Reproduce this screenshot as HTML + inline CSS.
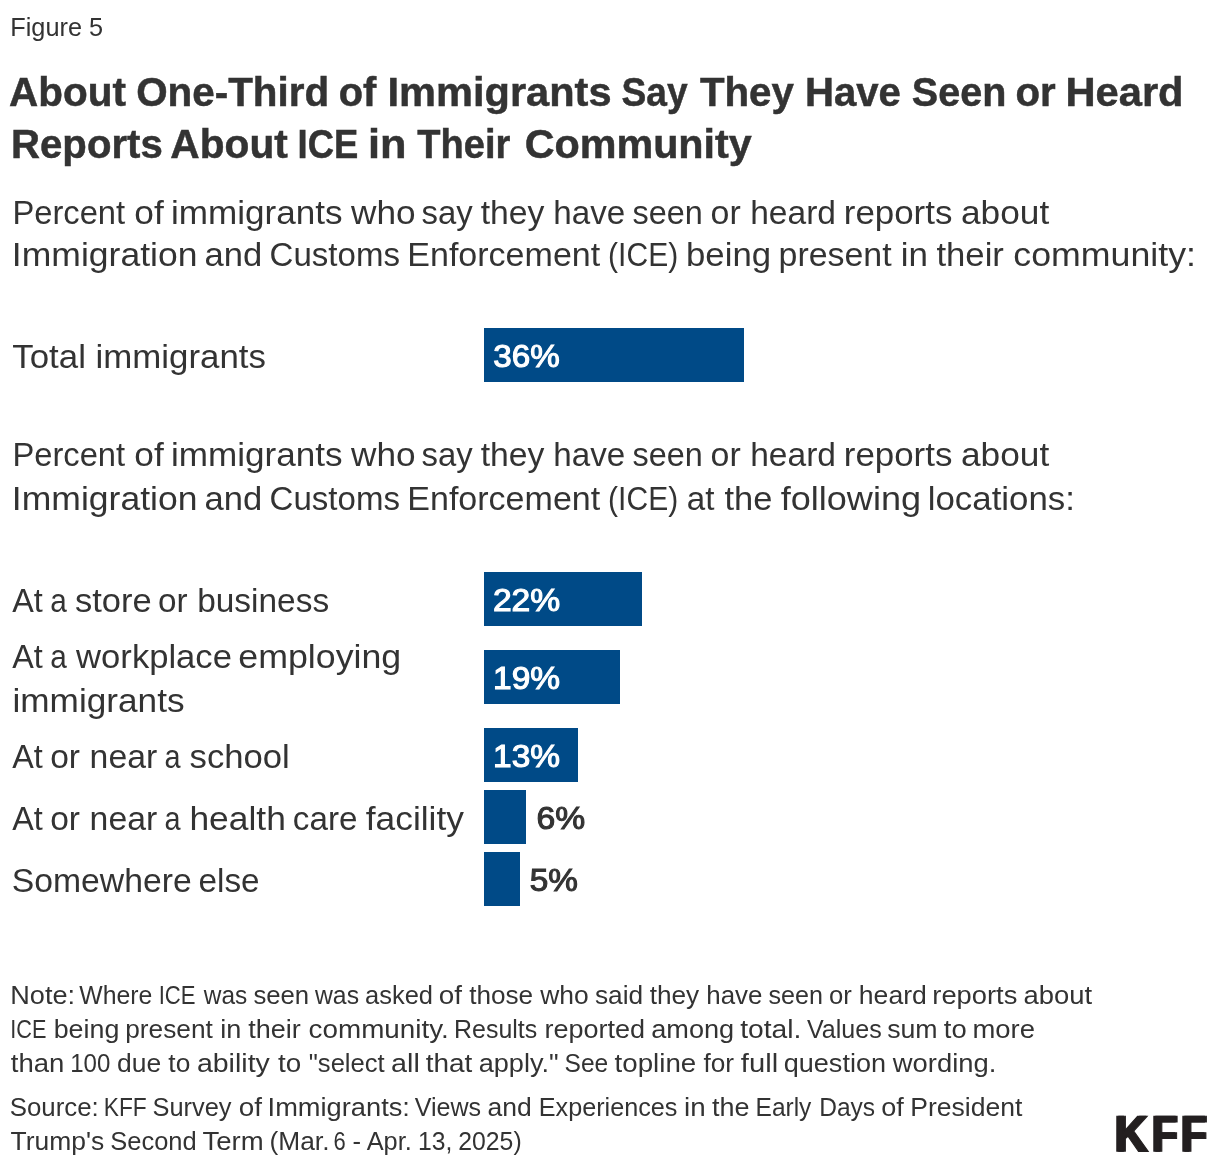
<!DOCTYPE html>
<html lang="en"><head><meta charset="utf-8"><title>Figure 5</title>
<style>
html,body{margin:0;padding:0;background:#fff;}
body{width:1220px;height:1168px;position:relative;overflow:hidden;font-family:"Liberation Sans",sans-serif;color:#333333;}
.ln{position:absolute;left:0;margin:0;padding:0;line-height:1;white-space:nowrap;font-weight:400;}
.ln span{position:absolute;left:0;top:0;white-space:nowrap;transform-origin:0 0;}
.bar{position:absolute;background:#004a87;}
.b{font-weight:700}
</style></head><body>
<div class="bar" style="left:484px;top:328px;width:260px;height:54px"></div>
<div class="bar" style="left:484px;top:572px;width:158px;height:54px"></div>
<div class="bar" style="left:484px;top:650px;width:136px;height:54px"></div>
<div class="bar" style="left:484px;top:728px;width:94px;height:54px"></div>
<div class="bar" style="left:484px;top:790px;width:42px;height:54px"></div>
<div class="bar" style="left:484px;top:852px;width:36px;height:54px"></div>
<div class="ln" id="fig" style="top:14px;font-size:26.6px;"><span style="transform:translateX(10.25px) scaleX(0.9514)">Figure 5</span></div>
<div class="ln b" id="t1" style="top:72px;font-size:41.4px;-webkit-text-stroke:0.5px #333333;"><span style="transform:translateX(9.08px) scaleX(0.9774)">About</span> <span style="transform:translateX(136.17px) scaleX(0.9756)">One-Third</span> <span style="transform:translateX(338.65px) scaleX(0.9605)">of</span> <span style="transform:translateX(387.47px) scaleX(1.0043)">Immigrants</span> <span style="transform:translateX(621.57px) scaleX(0.8975)">Say</span> <span style="transform:translateX(699.89px) scaleX(0.9731)">They</span> <span style="transform:translateX(805.02px) scaleX(0.9687)">Have</span> <span style="transform:translateX(911.87px) scaleX(0.9543)">Seen</span> <span style="transform:translateX(1015.47px) scaleX(0.9717)">or</span> <span style="transform:translateX(1065.44px) scaleX(1.0068)">Heard</span></div>
<div class="ln b" id="t2" style="top:124px;font-size:41.4px;-webkit-text-stroke:0.5px #333333;"><span style="transform:translateX(11.06px) scaleX(0.9698)">Reports</span> <span style="transform:translateX(170.35px) scaleX(0.9826)">About</span> <span style="transform:translateX(297.57px) scaleX(0.8802)">ICE</span> <span style="transform:translateX(367.99px) scaleX(1.0471)">in</span> <span style="transform:translateX(417.27px) scaleX(0.9189)">Their</span> <span style="transform:translateX(524.65px) scaleX(0.9978)">Community</span></div>
<div class="ln" id="s1" style="top:196px;font-size:33.2px;"><span style="transform:translateX(12.41px) scaleX(0.9856)">Percent</span> <span style="transform:translateX(134.27px) scaleX(1.0624)">of</span> <span style="transform:translateX(170.96px) scaleX(1.0574)">immigrants</span> <span style="transform:translateX(351.09px) scaleX(1.0614)">who</span> <span style="transform:translateX(421.56px) scaleX(0.9907)">say</span> <span style="transform:translateX(480.67px) scaleX(1.0165)">they</span> <span style="transform:translateX(553.28px) scaleX(1.0004)">have</span> <span style="transform:translateX(632.56px) scaleX(0.9753)">seen</span> <span style="transform:translateX(710.52px) scaleX(1.0227)">or</span> <span style="transform:translateX(750.19px) scaleX(1.0108)">heard</span> <span style="transform:translateX(843.79px) scaleX(1.0513)">reports</span> <span style="transform:translateX(960.97px) scaleX(1.0629)">about</span></div>
<div class="ln" id="s2" style="top:238px;font-size:33.2px;"><span style="transform:translateX(11.86px) scaleX(1.0704)">Immigration</span> <span style="transform:translateX(204.60px) scaleX(1.0421)">and</span> <span style="transform:translateX(269.58px) scaleX(0.9955)">Customs</span> <span style="transform:translateX(407.29px) scaleX(1.0252)">Enforcement</span> <span style="transform:translateX(608.12px) scaleX(0.9044)">(ICE)</span> <span style="transform:translateX(686.03px) scaleX(1.0469)">being</span> <span style="transform:translateX(778.55px) scaleX(1.0210)">present</span> <span style="transform:translateX(900.79px) scaleX(1.0541)">in</span> <span style="transform:translateX(936.40px) scaleX(1.0458)">their</span> <span style="transform:translateX(1013.35px) scaleX(1.0760)">community:</span></div>
<div class="ln" id="r0" style="top:340px;font-size:33.2px;"><span style="transform:translateX(12.32px) scaleX(1.0495)">Total immigrants</span></div>
<div class="ln" id="v0" style="top:340px;font-size:32.0px;color:#ffffff;-webkit-text-stroke:1.1px #ffffff;"><span style="transform:translateX(493.33px) scaleX(1.0375)">36%</span></div>
<div class="ln" id="g1" style="top:438px;font-size:33.2px;"><span style="transform:translateX(12.41px) scaleX(0.9856)">Percent</span> <span style="transform:translateX(134.27px) scaleX(1.0624)">of</span> <span style="transform:translateX(170.96px) scaleX(1.0574)">immigrants</span> <span style="transform:translateX(351.09px) scaleX(1.0614)">who</span> <span style="transform:translateX(421.56px) scaleX(0.9907)">say</span> <span style="transform:translateX(480.67px) scaleX(1.0165)">they</span> <span style="transform:translateX(553.28px) scaleX(1.0004)">have</span> <span style="transform:translateX(632.56px) scaleX(0.9753)">seen</span> <span style="transform:translateX(710.52px) scaleX(1.0227)">or</span> <span style="transform:translateX(750.19px) scaleX(1.0108)">heard</span> <span style="transform:translateX(843.79px) scaleX(1.0513)">reports</span> <span style="transform:translateX(960.97px) scaleX(1.0629)">about</span></div>
<div class="ln" id="g2" style="top:482px;font-size:33.2px;"><span style="transform:translateX(11.86px) scaleX(1.0704)">Immigration</span> <span style="transform:translateX(204.60px) scaleX(1.0421)">and</span> <span style="transform:translateX(269.58px) scaleX(0.9955)">Customs</span> <span style="transform:translateX(407.29px) scaleX(1.0252)">Enforcement</span> <span style="transform:translateX(608.12px) scaleX(0.9044)">(ICE)</span> <span style="transform:translateX(686.87px) scaleX(0.9987)">at</span> <span style="transform:translateX(724.40px) scaleX(1.0379)">the</span> <span style="transform:translateX(780.67px) scaleX(1.0868)">following</span> <span style="transform:translateX(927.72px) scaleX(1.0502)">locations:</span></div>
<div class="ln" id="r1" style="top:584px;font-size:33.2px;"><span style="transform:translateX(12.20px) scaleX(0.9732)">At</span> <span style="transform:translateX(50.37px) scaleX(0.8974)">a</span> <span style="transform:translateX(74.91px) scaleX(1.0391)">store</span> <span style="transform:translateX(157.89px) scaleX(1.0033)">or</span> <span style="transform:translateX(197.19px) scaleX(1.0073)">business</span></div>
<div class="ln" id="v1" style="top:584px;font-size:32.0px;color:#ffffff;-webkit-text-stroke:1.1px #ffffff;"><span style="transform:translateX(492.88px) scaleX(1.0519)">22%</span></div>
<div class="ln" id="r2a" style="top:640px;font-size:33.2px;"><span style="transform:translateX(12.20px) scaleX(0.9732)">At</span> <span style="transform:translateX(50.37px) scaleX(0.8974)">a</span> <span style="transform:translateX(76.10px) scaleX(1.0430)">workplace</span> <span style="transform:translateX(238.33px) scaleX(1.0769)">employing</span></div>
<div class="ln" id="r2b" style="top:684px;font-size:33.2px;"><span style="transform:translateX(12.47px) scaleX(1.0605)">immigrants</span></div>
<div class="ln" id="v2" style="top:662px;font-size:32.0px;color:#ffffff;-webkit-text-stroke:1.1px #ffffff;"><span style="transform:translateX(493.03px) scaleX(1.0462)">19%</span></div>
<div class="ln" id="r3" style="top:740px;font-size:33.2px;"><span style="transform:translateX(12.20px) scaleX(0.9732)">At</span> <span style="transform:translateX(50.13px) scaleX(1.0107)">or</span> <span style="transform:translateX(89.60px) scaleX(1.0180)">near</span> <span style="transform:translateX(164.59px) scaleX(0.8691)">a</span> <span style="transform:translateX(189.53px) scaleX(1.0453)">school</span></div>
<div class="ln" id="v3" style="top:740px;font-size:32.0px;color:#ffffff;-webkit-text-stroke:1.1px #ffffff;"><span style="transform:translateX(493.03px) scaleX(1.0462)">13%</span></div>
<div class="ln" id="r4" style="top:802px;font-size:33.2px;"><span style="transform:translateX(12.20px) scaleX(0.9732)">At</span> <span style="transform:translateX(50.13px) scaleX(1.0107)">or</span> <span style="transform:translateX(89.60px) scaleX(1.0180)">near</span> <span style="transform:translateX(164.59px) scaleX(0.8691)">a</span> <span style="transform:translateX(189.43px) scaleX(1.0666)">health</span> <span style="transform:translateX(292.81px) scaleX(1.0010)">care</span> <span style="transform:translateX(365.70px) scaleX(1.0656)">facility</span></div>
<div class="ln" id="v4" style="top:802px;font-size:32.0px;-webkit-text-stroke:1.1px #333333;"><span style="transform:translateX(536.42px) scaleX(1.0515)">6%</span></div>
<div class="ln" id="r5" style="top:864px;font-size:33.2px;"><span style="transform:translateX(11.79px) scaleX(1.0159)">Somewhere</span> <span style="transform:translateX(198.53px) scaleX(1.0030)">else</span></div>
<div class="ln" id="v5" style="top:864px;font-size:32.0px;-webkit-text-stroke:1.1px #333333;"><span style="transform:translateX(529.70px) scaleX(1.0406)">5%</span></div>
<div class="ln" id="n1" style="top:983px;font-size:25.6px;"><span style="transform:translateX(10.23px) scaleX(1.0596)">Note:</span> <span style="transform:translateX(79.24px) scaleX(0.9689)">Where</span> <span style="transform:translateX(158.65px) scaleX(0.8637)">ICE</span> <span style="transform:translateX(203.77px) scaleX(0.9543)">was</span> <span style="transform:translateX(253.38px) scaleX(1.0036)">seen</span> <span style="transform:translateX(315.01px) scaleX(0.9665)">was</span> <span style="transform:translateX(365.05px) scaleX(0.9950)">asked</span> <span style="transform:translateX(438.69px) scaleX(1.0884)">of</span> <span style="transform:translateX(469.13px) scaleX(1.0212)">those</span> <span style="transform:translateX(540.28px) scaleX(1.0330)">who</span> <span style="transform:translateX(594.99px) scaleX(1.0259)">said</span> <span style="transform:translateX(649.63px) scaleX(1.0225)">they</span> <span style="transform:translateX(706.28px) scaleX(1.0122)">have</span> <span style="transform:translateX(768.43px) scaleX(0.9802)">seen</span> <span style="transform:translateX(828.98px) scaleX(1.0020)">or</span> <span style="transform:translateX(858.84px) scaleX(1.0382)">heard</span> <span style="transform:translateX(932.29px) scaleX(1.0670)">reports</span> <span style="transform:translateX(1023.62px) scaleX(1.0710)">about</span></div>
<div class="ln" id="n2" style="top:1017px;font-size:25.6px;"><span style="transform:translateX(10.24px) scaleX(0.8471)">ICE</span> <span style="transform:translateX(53.66px) scaleX(1.0483)">being</span> <span style="transform:translateX(125.25px) scaleX(1.0251)">present</span> <span style="transform:translateX(220.23px) scaleX(1.0599)">in</span> <span style="transform:translateX(248.34px) scaleX(1.0548)">their</span> <span style="transform:translateX(308.62px) scaleX(1.0872)">community.</span> <span style="transform:translateX(454.10px) scaleX(0.9743)">Results</span> <span style="transform:translateX(544.39px) scaleX(1.0557)">reported</span> <span style="transform:translateX(651.20px) scaleX(1.0606)">among</span> <span style="transform:translateX(740.19px) scaleX(1.1041)">total.</span> <span style="transform:translateX(806.97px) scaleX(0.9795)">Values</span> <span style="transform:translateX(887.13px) scaleX(1.0444)">sum</span> <span style="transform:translateX(943.78px) scaleX(1.0700)">to</span> <span style="transform:translateX(972.45px) scaleX(1.0718)">more</span></div>
<div class="ln" id="n3" style="top:1051px;font-size:25.6px;"><span style="transform:translateX(10.77px) scaleX(1.0749)">than</span> <span style="transform:translateX(70.24px) scaleX(0.9394)">100</span> <span style="transform:translateX(117.04px) scaleX(1.0344)">due</span> <span style="transform:translateX(168.37px) scaleX(1.0282)">to</span> <span style="transform:translateX(196.90px) scaleX(1.1143)">ability</span> <span style="transform:translateX(278.03px) scaleX(1.0876)">to</span> <span style="transform:translateX(308.74px) scaleX(1.0002)">&quot;select</span> <span style="transform:translateX(391.09px) scaleX(1.1224)">all</span> <span style="transform:translateX(425.75px) scaleX(1.0921)">that</span> <span style="transform:translateX(478.68px) scaleX(1.0595)">apply.&quot;</span> <span style="transform:translateX(564.58px) scaleX(0.9585)">See</span> <span style="transform:translateX(614.57px) scaleX(1.0823)">topline</span> <span style="transform:translateX(703.50px) scaleX(1.0240)">for</span> <span style="transform:translateX(740.81px) scaleX(1.1407)">full</span> <span style="transform:translateX(783.75px) scaleX(1.0566)">question</span> <span style="transform:translateX(892.83px) scaleX(1.0689)">wording.</span></div>
<div class="ln" id="c1" style="top:1095px;font-size:25.6px;"><span style="transform:translateX(9.67px) scaleX(1.0099)">Source:</span> <span style="transform:translateX(103.75px) scaleX(0.8892)">KFF</span> <span style="transform:translateX(152.54px) scaleX(0.9920)">Survey</span> <span style="transform:translateX(238.69px) scaleX(1.0884)">of</span> <span style="transform:translateX(267.58px) scaleX(1.0647)">Immigrants:</span> <span style="transform:translateX(414.72px) scaleX(0.9795)">Views</span> <span style="transform:translateX(487.58px) scaleX(1.0347)">and</span> <span style="transform:translateX(538.80px) scaleX(0.9840)">Experiences</span> <span style="transform:translateX(684.00px) scaleX(1.0841)">in</span> <span style="transform:translateX(712.08px) scaleX(1.0534)">the</span> <span style="transform:translateX(755.58px) scaleX(0.9567)">Early</span> <span style="transform:translateX(819.24px) scaleX(0.9587)">Days</span> <span style="transform:translateX(881.22px) scaleX(1.0586)">of</span> <span style="transform:translateX(910.24px) scaleX(1.0361)">President</span></div>
<div class="ln" id="c2" style="top:1129px;font-size:25.6px;"><span style="transform:translateX(10.57px) scaleX(1.0335)">Trump's</span> <span style="transform:translateX(110.25px) scaleX(0.9955)">Second</span> <span style="transform:translateX(202.49px) scaleX(1.0755)">Term</span> <span style="transform:translateX(269.58px) scaleX(1.0269)">(Mar.</span> <span style="transform:translateX(333.42px) scaleX(0.8565)">6</span> <span style="transform:translateX(352.54px) scaleX(1.0003)">-</span> <span style="transform:translateX(366.63px) scaleX(0.9908)">Apr.</span> <span style="transform:translateX(418.07px) scaleX(0.9638)">13,</span> <span style="transform:translateX(458.31px) scaleX(0.9674)">2025)</span></div>
<svg class="logo" role="img" aria-label="KFF" style="position:absolute;left:0;top:0;overflow:visible;pointer-events:none" width="1220" height="1168"><g style="filter:drop-shadow(2px 0 0 #231f20)" font-family="Liberation Sans, sans-serif" font-weight="700" font-size="50.9" fill="#231f20" stroke="#231f20" stroke-width="1.2" stroke-linejoin="miter"><text transform="translate(1113.82 1151.30) scale(0.8949 1) rotate(0.03)">K</text><text transform="translate(1150.89 1151.30) scale(0.8250 1) rotate(0.03)">F</text><text transform="translate(1180.08 1151.30) scale(0.8347 1) rotate(0.03)">F</text></g></svg>
</body></html>
